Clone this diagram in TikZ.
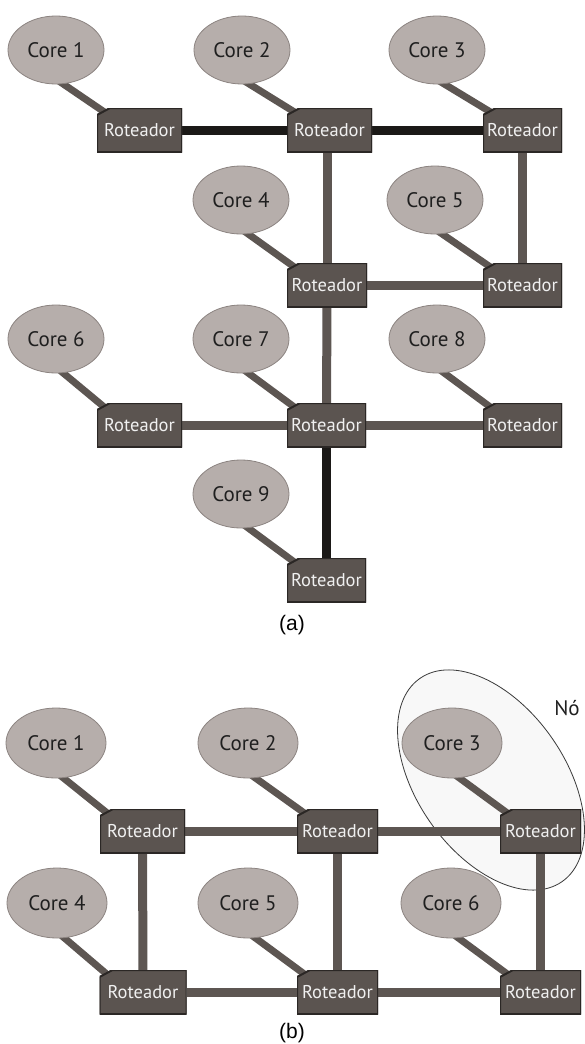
\documentclass[tikz,border=0pt]{standalone}
\usepackage{fontspec}
\usetikzlibrary{shapes.geometric}
\newfontfamily\labelfont{PT Sans}
\newfontfamily\captionfont{Liberation Sans}
\definecolor{corefill}{HTML}{B6AEAB}
\definecolor{coreedge}{HTML}{8C8481}
\definecolor{routerfill}{HTML}{5B5450}
\definecolor{routeredge}{HTML}{2B2725}
\definecolor{linkgray}{HTML}{5D5652}
\definecolor{linkblack}{HTML}{1B1917}
\definecolor{groupfill}{HTML}{F8F8F8}
\definecolor{groupedge}{HTML}{3A3A3A}
\pgfdeclarelayer{paper}
\pgfdeclarelayer{groups}
\pgfdeclarelayer{links}
\pgfsetlayers{paper,groups,links,main}
\tikzset{
  core/.style={ellipse, fill=corefill, draw=coreedge, line width=0.8pt,
    inner sep=0pt, text=black!88, font=\labelfont\fontsize{21}{21}\selectfont},
  corea/.style={core, minimum width=96pt, minimum height=68pt},
  coreb/.style={core, minimum width=100pt, minimum height=70pt},
  router/.style={rectangle, minimum height=44pt, minimum width=#1, inner sep=0pt,
    text=white!94!black, font=\labelfont\fontsize{18.5}{18.5}\selectfont,
    path picture={\path[fill=routerfill, draw=routeredge, line width=2pt]
      ([xshift=13pt]path picture bounding box.north west)
      -- (path picture bounding box.north east)
      -- (path picture bounding box.south east)
      -- (path picture bounding box.south west)
      -- ([yshift=-7pt]path picture bounding box.north west) -- cycle;}},
  router/.default=85pt,
  link/.style={line width=9pt, draw=linkgray},
  bus/.style={line width=9pt, draw=linkblack},
  wire/.style={line width=7pt, draw=linkgray, shorten <=-6pt, shorten >=-5pt},
  caption/.style={font=\captionfont\fontsize{21}{21}\selectfont, text=black},
  group/.style={ellipse, fill=groupfill, draw=groupedge, line width=0.8pt,
    minimum width=248pt, minimum height=148pt, inner sep=0pt}
}
% chamfer midpoint of a router
\newcommand{\chamfer}[1]{([xshift=6.5pt,yshift=-3.5pt]#1.north west)}
\begin{document}
\begin{tikzpicture}[x=1pt,y=-1pt]
\begin{pgfonlayer}{paper}
  \fill[white] (0,0) rectangle (584,1044);
\end{pgfonlayer}
\useasboundingbox (0,0) rectangle (584,1044);

% ---------------- (a) irregular mesh ----------------
\node[corea] (a1) at (56,50) {Core 1};
\node[corea] (a2) at (242,50) {Core 2};
\node[corea] (a3) at (437,50) {Core 3};
\node[corea] (a4) at (241,200) {Core 4};
\node[corea] (a5) at (435,200) {Core 5};
\node[corea] (a6) at (56,339) {Core 6};
\node[corea] (a7) at (241,339) {Core 7};
\node[corea] (a8) at (437,339) {Core 8};
\node[corea] (a9) at (241,494) {Core 9};

\node[router] (ra1) at (139.5,130) {Roteador};
\node[router] (ra2) at (329.5,130) {Roteador};
\node[router=79pt] (ra3) at (522.5,130) {Roteador};
\node[router=80pt] (ra4) at (327,285) {Roteador};
\node[router=79pt] (ra5) at (522.5,285) {Roteador};
\node[router] (ra6) at (139.5,425) {Roteador};
\node[router=79pt] (ra7) at (326.5,425) {Roteador};
\node[router=79pt] (ra8) at (522.5,425) {Roteador};
\node[router=79pt] (ra9) at (326.5,580) {Roteador};

\node[caption] (capa) at (292,625) {(a)};

% ---------------- (b) regular mesh ----------------
\node[coreb] (b1) at (56,743) {Core 1};
\node[coreb] (b2) at (248,743) {Core 2};
\node[coreb] (b3) at (452,743) {Core 3};
\node[coreb] (b4) at (57,903) {Core 4};
\node[coreb] (b5) at (248,903) {Core 5};
\node[coreb] (b6) at (451,903) {Core 6};

\node[router] (rb1) at (142.5,831) {Roteador};
\node[router=81pt] (rb2) at (337.5,831) {Roteador};
\node[router=81pt] (rb3) at (540.5,831) {Roteador};
\node[router=87pt] (rb4) at (143,992) {Roteador};
\node[router=81pt] (rb5) at (337.5,992) {Roteador};
\node[router=81pt] (rb6) at (540.5,992) {Roteador};

\node[font=\labelfont\fontsize{21}{21}\selectfont, text=black!88] (no) at (567,708) {Nó};
\node[caption] (capb) at (292,1033) {(b)};

% the node grouping Core 3 with its router
\begin{pgfonlayer}{groups}
  \node[group, rotate=-55] (grp) at (491,780) {};
\end{pgfonlayer}

\begin{pgfonlayer}{links}
  % (a) core attachments
  \foreach \i in {1,...,9}
    \draw[wire] (a\i.-78) -- \chamfer{ra\i};
  % (a) router links
  \draw[bus] (ra1) -- (ra2);
  \draw[bus] (ra2) -- (ra3);
  \draw[bus] (ra7) -- (ra9);
  \draw[link] (ra2.south -| ra4) -- (ra4);
  \draw[link] (ra3) -- (ra5);
  \draw[link] (ra4) -- (ra5);
  \draw[link] (ra4) -- (ra7);
  \draw[link] (ra6) -- (ra7);
  \draw[link] (ra7) -- (ra8);
  % (b) core attachments
  \foreach \i in {1,...,6}
    \draw[wire] (b\i.-78) -- \chamfer{rb\i};
  % (b) router links
  \draw[link] (rb1) -- (rb2);
  \draw[link] (rb2) -- (rb3);
  \draw[link] (rb4) -- (rb5);
  \draw[link] (rb5) -- (rb6);
  \draw[link] (rb1) -- (rb4);
  \draw[link] (rb2) -- (rb5);
  \draw[link] (rb3) -- (rb6);
\end{pgfonlayer}
\end{tikzpicture}
\end{document}
